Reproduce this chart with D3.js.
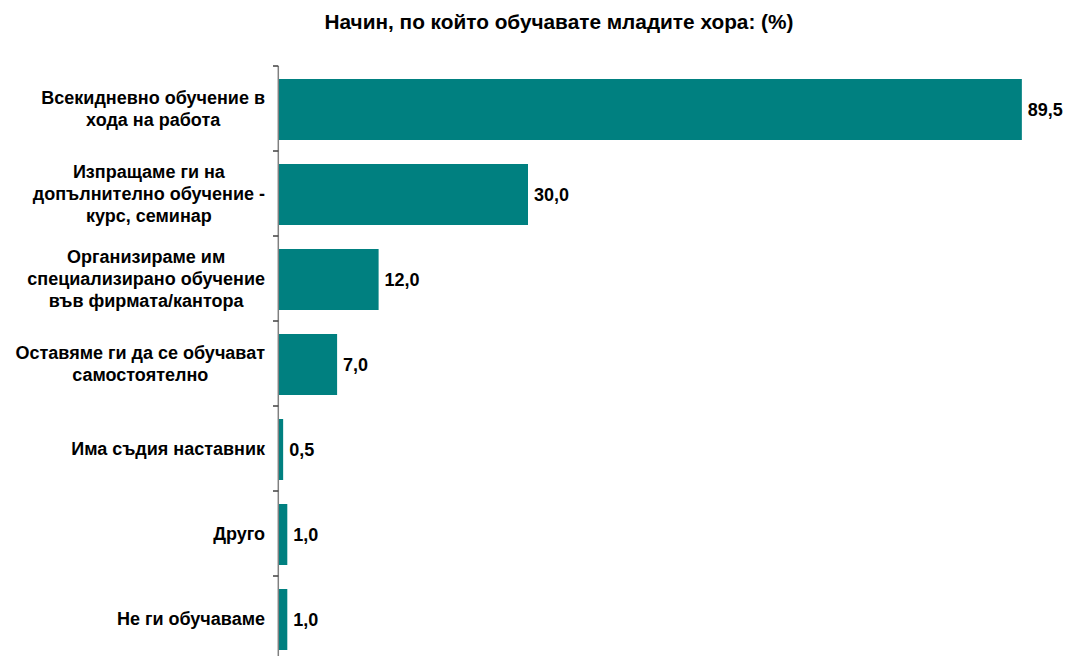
<!DOCTYPE html>
<html>
<head>
<meta charset="utf-8">
<script src="https://cdn.jsdelivr.net/npm/d3@7"></script>
<style>
  html, body { margin: 0; padding: 0; background: #fff; }
  svg { display: block; font-family: "Liberation Sans", Arial, sans-serif; }
</style>
</head>
<body>
<svg id="chart" width="1065" height="656"></svg>
<script>
const title = "Начин, по който обучавате младите хора: (%)";
const categories = [
  "Всекидневно обучение в|хода на работа",
  "Изпращаме ги на|допълнително обучение -|курс, семинар",
  "Организираме им|специализирано обучение|във фирмата/кантора",
  "Оставяме ги да се обучават|самостоятелно",
  "Има съдия наставник",
  "Друго",
  "Не ги обучаваме"
];
const values = [89.5, 30.0, 12.0, 7.0, 0.5, 1.0, 1.0];

const svg = d3.select("#chart");
const barColor = "#008080";

const top0 = 66, bandH = 85;
const bottom0 = top0 + bandH * categories.length;
const x = d3.scaleLinear().domain([0, 100]).range([279, 1109]);
// Band scale whose step equals one category slot; bars sit slightly below centre
const y = d3.scaleBand().domain(categories)
  .range([top0, bottom0])
  .paddingInner(24 / 85).paddingOuter(12 / 85).align(13 / 24);

svg.append("text")
  .attr("x", 559).attr("y", 29)
  .attr("text-anchor", "middle")
  .attr("font-size", 20.8).attr("font-weight", "bold")
  .text(title);

// Bars
svg.selectAll("rect.bar").data(values).join("rect")
  .attr("class", "bar")
  .attr("x", x(0))
  .attr("y", (d, i) => y(categories[i]))
  .attr("width", d => x(d) - x(0))
  .attr("height", y.bandwidth())
  .attr("fill", barColor);

// Value labels
svg.selectAll("text.val").data(values).join("text")
  .attr("class", "val")
  .attr("x", d => x(d) + 6)
  .attr("y", (d, i) => y(categories[i]) + y.bandwidth() / 2)
  .attr("dy", "0.36em")
  .attr("font-size", 18).attr("font-weight", "bold")
  .text(d => d3.format(".1f")(d).replace(".", ","));

// Category axis with ticks at slot boundaries
const axisX = 278.3;
svg.append("line")
  .attr("x1", axisX).attr("x2", axisX)
  .attr("y1", top0).attr("y2", 660)
  .attr("stroke", "#808080").attr("stroke-width", 1.5);

const boundaries = d3.range(categories.length + 1).map(i => top0 + i * bandH);
svg.selectAll("line.tick").data(boundaries).join("line")
  .attr("class", "tick")
  .attr("x1", 273).attr("x2", axisX)
  .attr("y1", d => d).attr("y2", d => d)
  .attr("stroke", "#404040").attr("stroke-width", 1.5);

// Category labels: multi-line blocks, centred lines, block right edge fixed
const lineH = 22, rightEdge = 265;
categories.forEach((c, i) => {
  const lines = c.split("|");
  const cy = top0 + (i + 0.5) * bandH;
  const t = svg.append("text")
    .attr("text-anchor", "middle")
    .attr("font-size", 18).attr("font-weight", "bold");
  const spans = lines.map((ln, j) => t.append("tspan")
      .attr("y", cy + (j - (lines.length - 1) / 2) * lineH)
      .attr("dy", "0.36em")
      .text(ln));
  const w = d3.max(spans, s => s.node().getComputedTextLength());
  spans.forEach(s => s.attr("x", rightEdge - w / 2));
});
</script>
</body>
</html>
